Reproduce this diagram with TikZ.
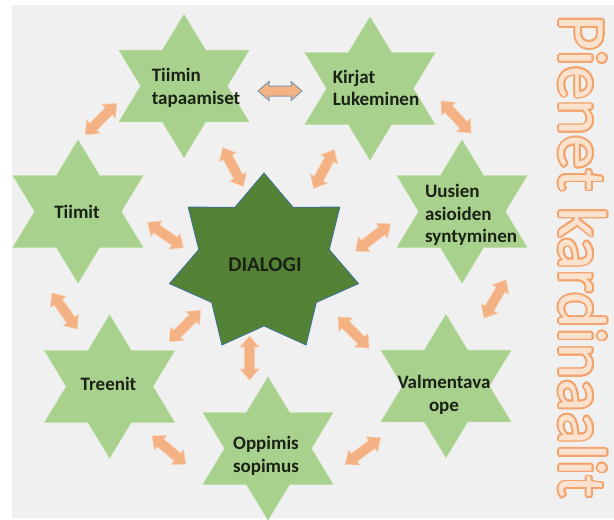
\documentclass[tikz,border=0pt]{standalone}
\usepackage{fontspec}
\setmainfont{Carlito}
\usetikzlibrary{calc}
\definecolor{bggray}{HTML}{F0F0F0}
\definecolor{lgreen}{HTML}{A9D18E}
\definecolor{lgreenline}{HTML}{B5D99C}
\definecolor{dgreen}{HTML}{548235}
\definecolor{dgreenline}{HTML}{41719C}
\definecolor{arrfill}{HTML}{F4B183}
\definecolor{arrline}{HTML}{F8CBAD}
\definecolor{arrblue}{HTML}{8497B0}
\definecolor{titleline}{HTML}{F2A46C}
\definecolor{titlefill}{HTML}{FBE2CF}
\definecolor{txtcol}{HTML}{1A2216}
\newcommand{\greenstar}[2]{%
  \filldraw[lgreen, draw=lgreenline, line width=0.6pt]
    ({#1},{#2-71.5})
    \foreach \k [evaluate=\k as \rr using {1-0.4226*mod(\k,2)}] in {1,...,11}{
      -- ({#1+75*\rr*cos(90+30*\k)},{#2-71.5*\rr*sin(90+30*\k)})
    } -- cycle;}
\newcommand{\dialogstar}[2]{%
  \filldraw[dgreen, draw=dgreenline, line width=0.8pt]
    ({#1},{#2-90.5})
    \foreach \k [evaluate=\k as \rr using {1-0.31*mod(\k,2)}] in {1,...,13}{
      -- ({#1+97*\rr*cos(90+180/7*\k)},{#2-90.5*\rr*sin(90+180/7*\k)})
    } -- cycle;}
\tikzset{
  lbl/.style={font=\bfseries\fontsize{19}{22.5}\selectfont, text=txtcol, inner sep=0pt},
  arrowshape/.style={fill=arrfill, draw=arrline, line width=0.6pt},
  dblarrow/.pic={
    \path[arrowshape,pic actions] (-22,0) -- (-11,-9.5) -- (-11,-5) -- (11,-5) -- (11,-9.5)
      -- (22,0) -- (11,9.5) -- (11,5) -- (-11,5) -- (-11,9.5) -- cycle;
  },
}
\begin{document}
\begin{tikzpicture}[x=1pt,y=-1pt]
\useasboundingbox (0,0) rectangle (614,520);
\fill[white] (0,0) rectangle (614,520);
\fill[bggray] (11.7,5) rectangle (614,518);

% stars
\greenstar{184}{86}
\greenstar{370}{88.5}
\greenstar{78}{211.5}
\greenstar{462}{211.5}
\greenstar{109.6}{386.5}
\greenstar{268}{448.5}
\greenstar{446}{386}
\dialogstar{264}{263.5}

% labels
\node[lbl, align=left] (tiimin) at (196,88) {Tiimin\\tapaamiset};
\node[lbl, align=left] (kirjat) at (376,88) {Kirjat\\Lukeminen};
\node[lbl] (tiimit) at (77,211.5) {Tiimit};
\node[lbl, align=left] (uusien) at (471,215) {Uusien\\asioiden\\syntyminen};
\node[lbl] (treenit) at (108.5,384) {Treenit};
\node[lbl, align=center] (valm) at (444,395) {Valmentava\\ope};
\node[lbl, align=center] (oppimis) at (266,456) {Oppimis\\sopimus};
\node[lbl, font=\bfseries\fontsize{21}{24}\selectfont] (dialogi) at (265,264.5) {DIALOGI};

% arrows
\pic[rotate=0, arrowshape/.append style={draw=arrblue, line width=1pt}] (aA) at (280,91) {dblarrow};
\pic[rotate=45] (aB) at (101,119) {dblarrow};
\pic[rotate=-47] (aC) at (456,117) {dblarrow};
\pic[rotate=-62] (aD) at (233,167) {dblarrow};
\pic[rotate=62] (aE) at (324,169) {dblarrow};
\pic[rotate=-35] (aF) at (165.5,235) {dblarrow};
\pic[rotate=38] (aG) at (373,237.5) {dblarrow};
\pic[rotate=-55] (aH) at (64.5,311) {dblarrow};
\pic[rotate=60] (aI) at (495,299) {dblarrow};
\pic[rotate=45] (aJ) at (185,326) {dblarrow};
\pic[rotate=-45] (aK) at (353.5,332.5) {dblarrow};
\pic[rotate=90] (aL) at (249.5,358) {dblarrow};
\pic[rotate=-40] (aM) at (169,450) {dblarrow};
\pic[rotate=37] (aN) at (363,451) {dblarrow};

% title with outline
\foreach \a in {0,30,...,330}{
  \node[rotate=-90, font=\fontsize{68}{70}\selectfont, text=titleline, inner sep=0pt]
    at ($(583,257)+(\a:1.7)$) {Pienet kardinaalit};
}
\node[rotate=-90, font=\fontsize{68}{70}\selectfont, text=titlefill, inner sep=0pt]
  (title) at (583,257) {Pienet kardinaalit};
\end{tikzpicture}
\end{document}
